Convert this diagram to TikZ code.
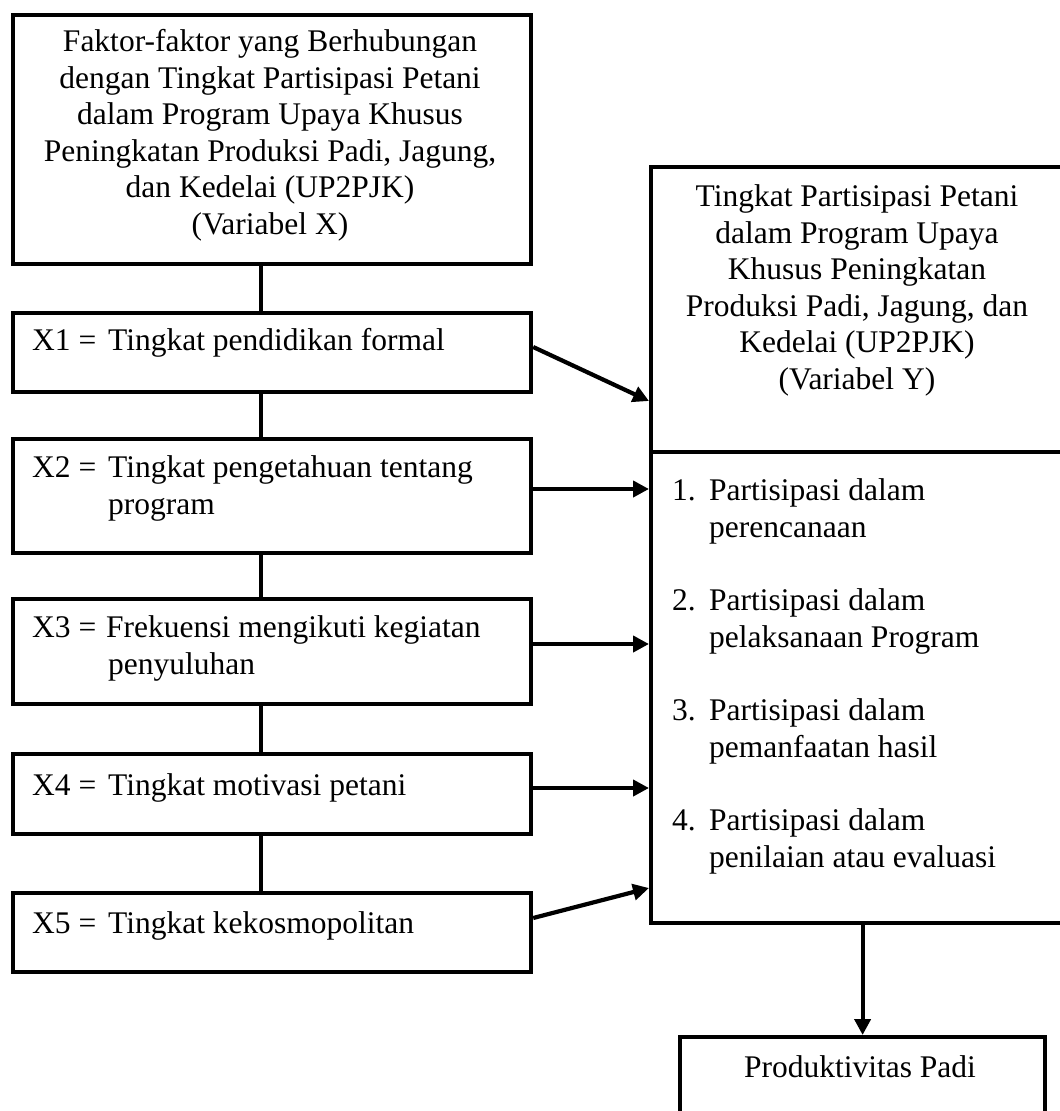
\documentclass[tikz,border=0pt]{standalone}
\usepackage{fontspec}
\setmainfont{Liberation Serif}
\usetikzlibrary{arrows.meta}
\begin{document}
\begin{tikzpicture}[x=1pt,y=-1pt,
  box/.style={draw, line width=4.2pt, rectangle, anchor=north west, inner sep=0pt},
  txt/.style={font=\fontsize{31.5}{36.5}\selectfont, inner sep=0pt},
  conn/.style={line width=4pt},
  arr/.style={line width=4.2pt, -{Triangle[length=16pt,width=16pt]}}]
\useasboundingbox (0,0) rectangle (1060,1111);

% boxes
\node[box, minimum width=518.3pt, minimum height=249pt] (top) at (10.7,13) {};
\node[box, minimum width=518.3pt, minimum height=79pt]  (x1) at (10.7,311) {};
\node[box, minimum width=518.3pt, minimum height=114pt] (x2) at (10.7,437) {};
\node[box, minimum width=518.3pt, minimum height=105pt] (x3) at (10.7,597) {};
\node[box, minimum width=518.3pt, minimum height=80pt]  (x4) at (10.7,752) {};
\node[box, minimum width=518.3pt, minimum height=79pt]  (x5) at (10.7,891) {};
\node[box, minimum width=413pt, minimum height=285pt] (ytop) at (649,165) {};
\node[box, minimum width=413pt, minimum height=471pt] (ylist) at (649,450) {};
\node[box, minimum width=365pt, minimum height=100pt] (prod) at (678,1035) {};

% texts
\node[txt, align=center, anchor=north] (ttop) at (270,29.5)
  {Faktor-faktor yang Berhubungan\\dengan Tingkat Partisipasi Petani\\dalam Program Upaya Khusus\\Peningkatan Produksi Padi, Jagung,\\dan Kedelai (UP2PJK)\\(Variabel X)};
\node[txt, anchor=base west] (t1) at (32,350) {\makebox[76pt][l]{X1 =}Tingkat pendidikan formal};
\node[txt, align=left, anchor=north west] (t2) at (32,455.5) {\makebox[76pt][l]{X2 =}Tingkat pengetahuan tentang\\\hspace*{76pt}program};
\node[txt, align=left, anchor=north west] (t3) at (32,615.5) {\makebox[74pt][l]{X3 =}Frekuensi mengikuti kegiatan\\\hspace*{76pt}penyuluhan};
\node[txt, anchor=base west] (t4) at (32,795) {\makebox[76pt][l]{X4 =}Tingkat motivasi petani};
\node[txt, anchor=base west] (t5) at (32,933) {\makebox[76pt][l]{X5 =}Tingkat kekosmopolitan};

\node[txt, align=center, anchor=north] (tytop) at (857,184.5)
  {Tingkat Partisipasi Petani\\dalam Program Upaya\\Khusus Peningkatan\\Produksi Padi, Jagung, dan\\Kedelai (UP2PJK)\\(Variabel Y)};
\node[txt, align=left, anchor=north west] (l1) at (672,478.5) {\makebox[37pt][l]{1.}Partisipasi dalam\\\hspace*{37pt}perencanaan};
\node[txt, align=left, anchor=north west] (l2) at (672,588.5) {\makebox[37pt][l]{2.}Partisipasi dalam\\\hspace*{37pt}pelaksanaan Program};
\node[txt, align=left, anchor=north west] (l3) at (672,698.5) {\makebox[37pt][l]{3.}Partisipasi dalam\\\hspace*{37pt}pemanfaatan hasil};
\node[txt, align=left, anchor=north west] (l4) at (672,808.5) {\makebox[37pt][l]{4.}Partisipasi dalam\\\hspace*{37pt}penilaian atau evaluasi};
\node[txt, anchor=base] (tp) at (860,1077) {Produktivitas Padi};

% spine connectors
\coordinate (sp) at (261,0);
\draw[conn] (top.south -| sp) -- (x1.north -| sp);
\draw[conn] (x1.south -| sp) -- (x2.north -| sp);
\draw[conn] (x2.south -| sp) -- (x3.north -| sp);
\draw[conn] (x3.south -| sp) -- (x4.north -| sp);
\draw[conn] (x4.south -| sp) -- (x5.north -| sp);

% arrows
\coordinate (a1s) at (0,347); \coordinate (a1e) at (0,401);
\coordinate (a2) at (0,489);
\coordinate (a3) at (0,644);
\coordinate (a4) at (0,788);
\coordinate (a5s) at (0,918); \coordinate (a5e) at (0,888);
\draw[arr] (x1.east |- a1s) -- (ytop.west |- a1e);
\draw[arr] (x2.east |- a2) -- (ylist.west |- a2);
\draw[arr] (x3.east |- a3) -- (ylist.west |- a3);
\draw[arr] (x4.east |- a4) -- (ylist.west |- a4);
\draw[arr] (x5.east |- a5s) -- (ylist.west |- a5e);
\draw[arr] (prod.north |- ylist.south) -- (prod.north);
\end{tikzpicture}
\end{document}
